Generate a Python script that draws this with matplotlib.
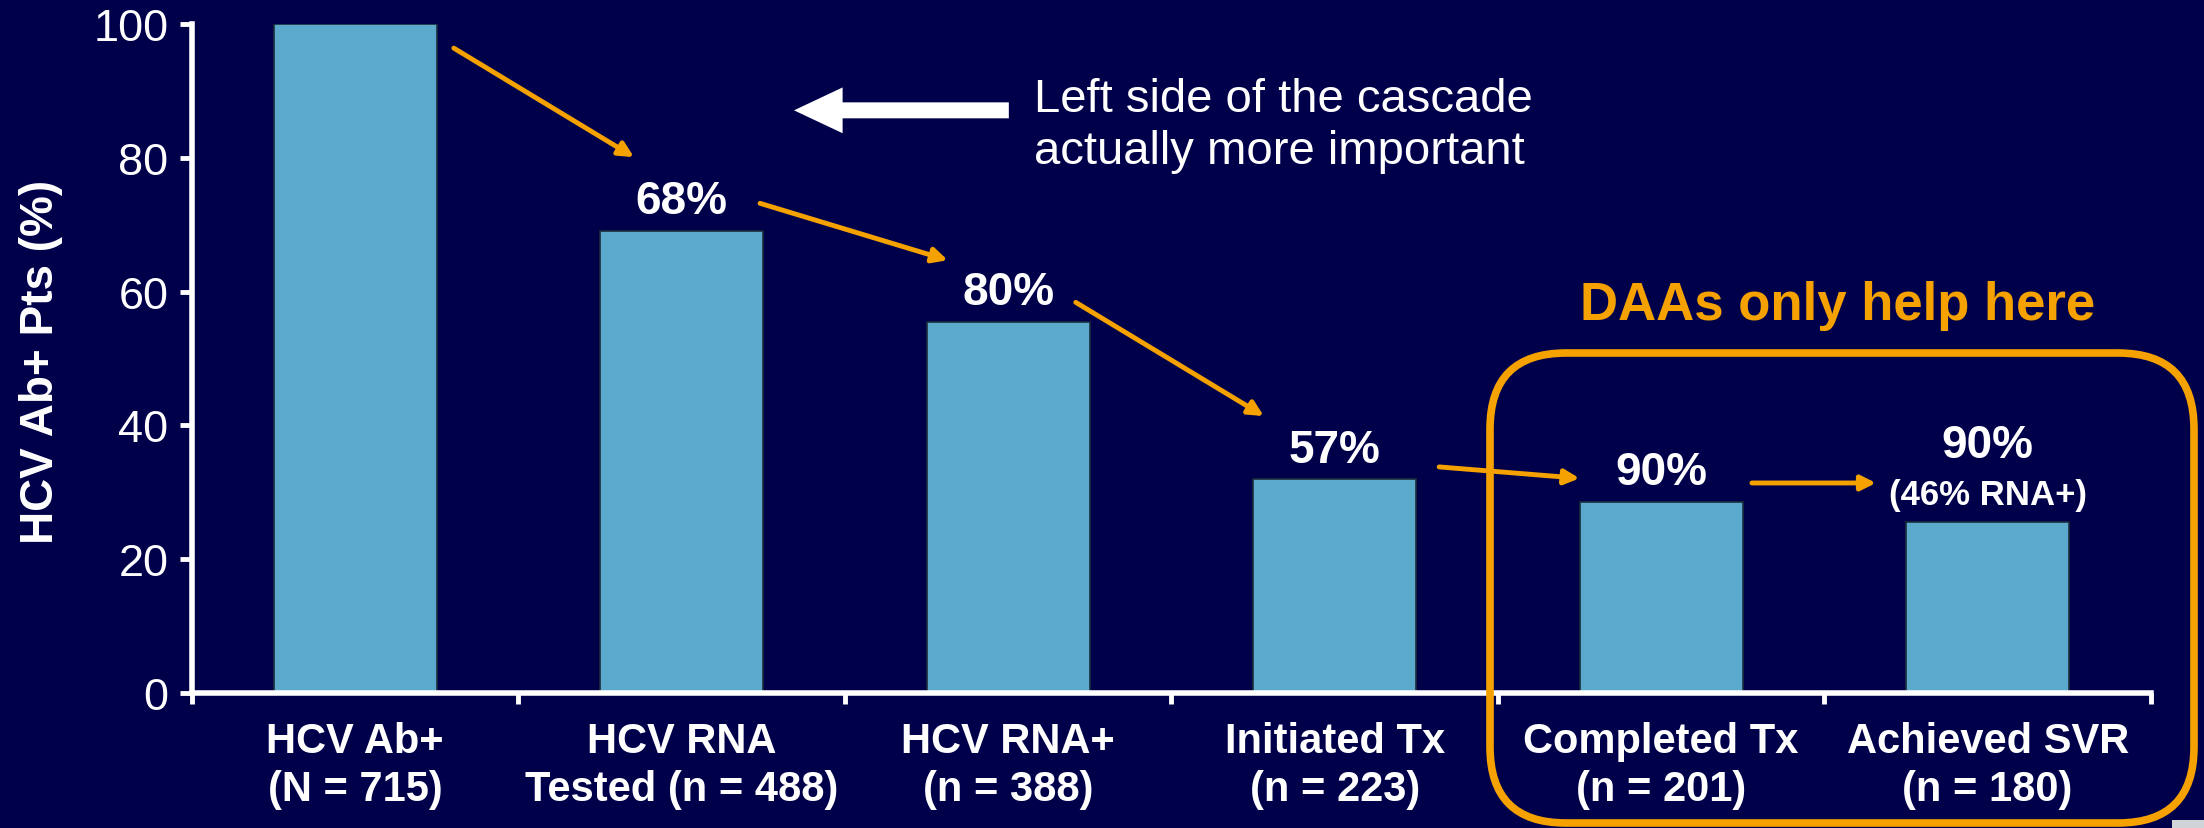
import numpy as np
import matplotlib
matplotlib.use("Agg")
import matplotlib.pyplot as plt
from matplotlib.patches import FancyBboxPatch, Rectangle
from matplotlib.transforms import IdentityTransform

plt.rcParams['font.family'] = ['Liberation Sans', 'DejaVu Sans']

# data
stages = ["HCV Ab+\n(N = 715)", "HCV RNA\nTested (n = 488)", "HCV RNA+\n(n = 388)",
          "Initiated Tx\n(n = 223)", "Completed Tx\n(n = 201)", "Achieved SVR\n(n = 180)"]
pct_pts = [100, 69.1, 55.5, 32.0, 28.6, 25.6]
step_pct = ["", "68%", "80%", "57%", "90%", "90%"]
svr_note = "(46% RNA+)"

# colours
bg = "#00004a"
bar_c = "#5baacd"
orange = "#f5a100"

fig = plt.figure(figsize=(22.04, 8.29), dpi=100, facecolor=bg)
ax = fig.add_axes([0.0871, 0.1628, 0.8888, 0.807])
ax.set_facecolor(bg)

x = np.arange(len(pct_pts))
ax.bar(x, pct_pts, width=0.5, color=bar_c, edgecolor="#1c2c3c", linewidth=1.2, zorder=2)

ax.set_xlim(-0.5, 5.5)
ax.set_ylim(0, 100)
for s in ["top", "right"]:
    ax.spines[s].set_visible(False)
for s in ["left", "bottom"]:
    ax.spines[s].set_color("white")
    ax.spines[s].set_linewidth(4)
    ax.spines[s].set_capstyle("projecting")

ax.set_yticks(np.arange(0, 101, 20))
ax.tick_params(axis="y", colors="white", labelsize=32.5, length=9, width=3.5, pad=8)
ax.set_xticks(x)
ax.set_xticklabels(stages, fontsize=30, fontweight="bold", color="white", linespacing=1.27)
ax.set_xticks(np.arange(-0.5, 5.6, 1), minor=True)
ax.tick_params(axis="x", which="major", length=0, pad=20)
ax.tick_params(axis="x", which="minor", colors="white", length=8, width=3.5)

fig.text(41 / 2204, 1 - 362 / 829, "HCV Ab+ Pts (%)", rotation=90, ha="center", va="center",
         fontsize=33, fontweight="bold", color="white")

# percentage labels above bars
for i, lab in enumerate(step_pct):
    if lab:
        ax.text(x[i], pct_pts[i] + 2.6 + (7.1 if i == 5 else 0), lab, ha="center", va="baseline",
                fontsize=33, fontweight="bold", color="white", zorder=3)
ax.text(x[5], pct_pts[5] + 2.65, svr_note, ha="center", va="baseline",
        fontsize=25, fontweight="bold", color="white", zorder=3)

# orange step arrows (annotation layout)
arrows = [((0.302, 96.4), (0.854, 80.1)),
          ((1.24, 73.2), (1.815, 64.7)),
          ((2.207, 58.4), (2.783, 41.4)),
          ((3.32, 33.8), (3.75, 32.1)),
          ((4.278, 31.4), (4.658, 31.4))]
for a, b in arrows:
    ax.annotate("", xy=b, xytext=a,
                arrowprops=dict(arrowstyle="-|>", color=orange, lw=3.5, mutation_scale=22,
                                shrinkA=0, shrinkB=0), zorder=4)

# white arrow and note
ax.annotate("", xy=(1.344, 87.1), xytext=(2.002, 87.1),
            arrowprops=dict(arrowstyle="simple,head_length=3.5,head_width=3.3,tail_width=1.15",
                            fc="white", ec="none", mutation_scale=10, shrinkA=0, shrinkB=0))
ax.text(2.079, 79.2, "Left side of the cascade\nactually more important", ha="left", va="baseline",
        fontsize=34, color="white", linespacing=1.24)

ax.text(4.54, 55.9, "DAAs only help here", ha="center", va="baseline", fontsize=38,
        fontweight="bold", color=orange, clip_on=False)

# rounded box around the DAA stages (pixel coords)
box = FancyBboxPatch((1490, 829 - 824), 2194 - 1490, 824 - 354,
                     boxstyle="round,pad=0,rounding_size=76", transform=IdentityTransform(),
                     fill=False, ec=orange, lw=5.5, zorder=5)
fig.add_artist(box)
fig.add_artist(Rectangle((2172, 0), 32, 8, transform=IdentityTransform(),
                         fc="#d0d4d8", ec="none"))

fig.savefig("out.png", dpi=100, facecolor=bg)
